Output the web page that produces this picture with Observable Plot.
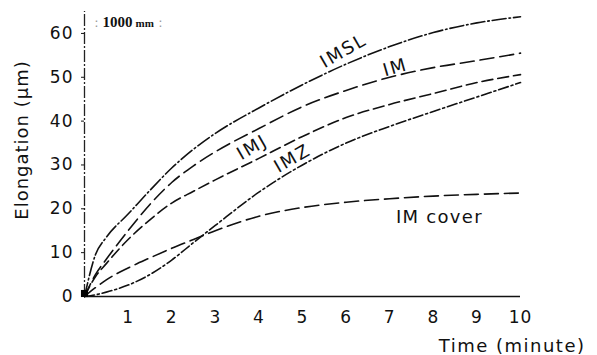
<!DOCTYPE html>
<html><head><meta charset="utf-8">
<script src="https://cdn.jsdelivr.net/npm/d3@7"></script>
<script src="https://cdn.jsdelivr.net/npm/@observablehq/plot@0.6"></script>
<style>body{margin:0;background:#fff}</style>
</head><body><div id="chart"></div>
<script>
// ---- data ----
const times   = [0, 0.25, 0.5, 1, 1.5, 2, 2.5, 3, 4, 5, 6, 7, 8, 9, 10];
const imsl    = [0, 9.5, 13.5, 18.8, 24.2, 29.3, 33.6, 37.2, 43, 48.3, 53, 57, 60.2, 62.4, 63.8];
const im      = [0, 5, 8.5, 15, 21, 26, 29.8, 33, 38.3, 43.3, 47, 50, 52.2, 53.8, 55.5];
const imj     = [0, 4.5, 7.5, 13, 17.5, 21.3, 24, 26.6, 31.5, 36.5, 40.8, 43.8, 46.3, 48.8, 50.6];
const imz     = [0, 0.4, 1, 2.6, 5, 8.3, 12.3, 16.2, 23.8, 30, 35, 38.8, 42.2, 45.5, 48.8];
const imCover = [0, 2, 3.8, 6.5, 8.8, 11, 13, 15, 18.3, 20.3, 21.5, 22.3, 22.9, 23.3, 23.6];
const seriesNames = ["IMSL", "IM", "IMJ", "IMZ", "IM cover"];
const seriesValues = [imsl, im, imj, imz, imCover];
const xTicks = [1, 2, 3, 4, 5, 6, 7, 8, 9, 10];
const yTicks = [0, 10, 20, 30, 40, 50, 60];

// ---- styles / annotation placement ----
const dash = {"IMSL": "14,3,1.5,3", "IM": "14,6", "IMJ": "11,5", "IMZ": "10,3,2,3", "IM cover": "14,6"};
const labelSpots = [
  {text: "IMSL", t: 5.94, v: 56.0, rot: -30},
  {text: "IM", t: 7.13, v: 52.2, rot: -16},
  {text: "IMJ", t: 3.85, v: 34, rot: -30},
  {text: "IMZ", t: 4.77, v: 31.5, rot: -30},
  {text: "IM cover", t: 8.14, v: 18.1, rot: 0}
];

const rows = seriesNames.flatMap((name, i) => times.map((t, j) => ({series: name, t, v: seriesValues[i][j]})));
const origin = [{t: times[0], v: imsl[0]}];

const lineMarks = seriesNames.map(name =>
  Plot.line(rows.filter(d => d.series === name), {
    x: "t", y: "v", curve: "monotone-x", stroke: "#111", strokeWidth: 1.6,
    strokeDasharray: dash[name]
  })
);

const chart = Plot.plot({
  width: 597, height: 355,
  marginLeft: 84, marginRight: 77, marginTop: 11, marginBottom: 59,
  x: {domain: [0, 10]},
  y: {domain: [0, 65]},
  style: {fontFamily: "DejaVu Sans", fontSize: "17px", color: "#111", background: "#fff"},
  marks: [
    Plot.ruleX([0], {y1: 0, y2: 65, stroke: "#222", strokeWidth: 1.3, strokeDasharray: "12,2,2,2"}),
    Plot.ruleY([0], {x1: 0, x2: 10, stroke: "#111", strokeWidth: 1.6}),
    Plot.axisY({ticks: yTicks, tickSize: 3, tickPadding: 8, fontSize: 17, label: null}),
    Plot.axisX({ticks: xTicks, tickSize: 0, tickPadding: 14, fontSize: 17, label: null}),
    ...lineMarks,
    Plot.dot(origin, {x: "t", y: "v", symbol: "square", r: 4, fill: "#000", dy: -3}),
    Plot.text(labelSpots, {x: "t", y: "v", text: "text", rotate: "rot", fontSize: 18, fill: "#111"}),
    Plot.text(["Elongation (μm)"], {frameAnchor: "left", textAnchor: "middle", lineAnchor: "middle", dx: -62, dy: -14, rotate: -90, fontSize: 18, fill: "#111"}),
    Plot.text(["Time (minute)"], {frameAnchor: "bottom-right", textAnchor: "end", lineAnchor: "middle", dx: 65, dy: 50, fontSize: 18, fill: "#111"}),
    Plot.text(["1000"], {frameAnchor: "top-left", textAnchor: "start", lineAnchor: "middle", dx: 18, dy: 11, fontSize: 15, fontWeight: "bold", fontFamily: "Liberation Serif", fill: "#111"}),
    Plot.text(["mm"], {frameAnchor: "top-left", textAnchor: "start", lineAnchor: "middle", dx: 51, dy: 12, fontSize: 11, fontWeight: "bold", fontFamily: "Liberation Serif", fill: "#111"}),
    Plot.text([":"], {frameAnchor: "top-left", textAnchor: "middle", lineAnchor: "middle", dx: 12, dy: 11, fontSize: 13, fill: "#999"}),
    Plot.text([":"], {frameAnchor: "top-left", textAnchor: "middle", lineAnchor: "middle", dx: 76, dy: 11, fontSize: 13, fill: "#999"})
  ]
});

// letter spacing to emulate the wide scanned lettering
d3.select(chart).selectAll("text").each(function() {
  const s = this.textContent;
  if (s === "1000" || s === "mm" || s === ":") return;
  if (s === "Elongation (μm)") this.style.letterSpacing = "1px";
  else if (s === "Time (minute)") this.style.letterSpacing = "1.5px";
  else if (s === "IM cover") this.style.letterSpacing = "1.3px";
  else if (/^[A-Z]/.test(s)) this.style.letterSpacing = "2px";
  else this.style.letterSpacing = "1px";
});
document.getElementById("chart").append(chart);
</script>
</body></html>
